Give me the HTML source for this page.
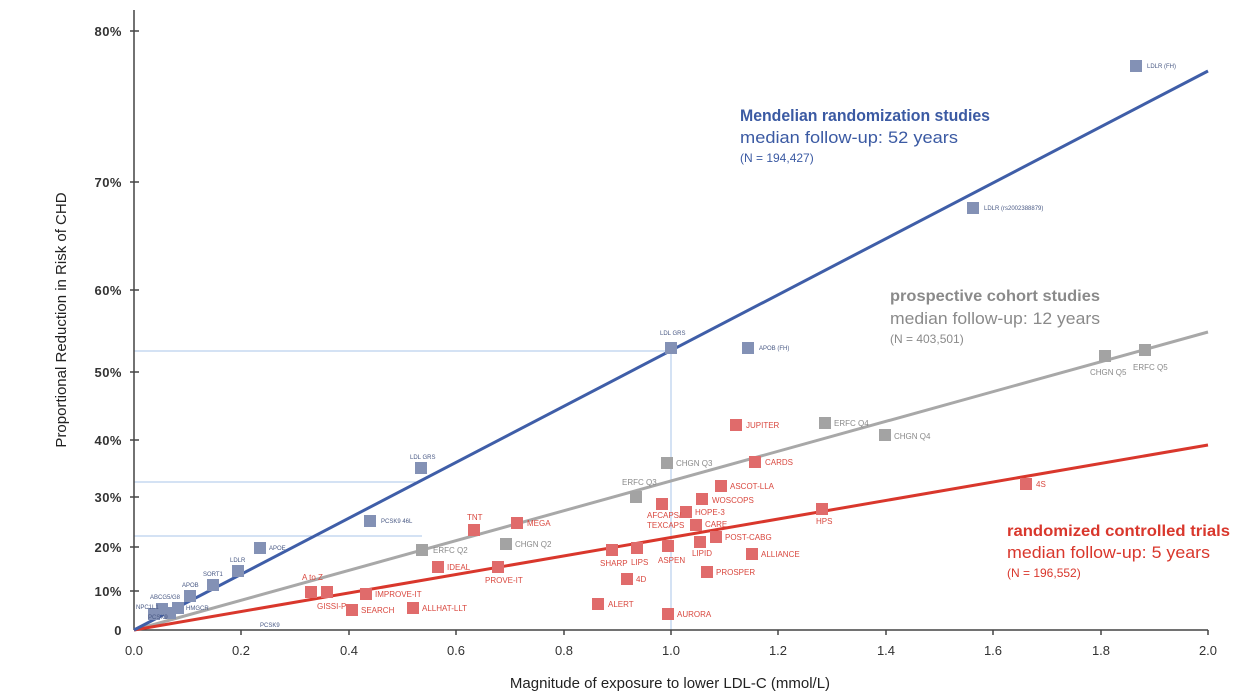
<!DOCTYPE html>
<html><head><meta charset="utf-8"><style>
body{margin:0;background:#fff}
svg{display:block;font-family:"Liberation Sans",sans-serif}
.b{fill:#8391b5}.g{fill:#a3a3a3}.r{fill:#e06b6b}
.tb{fill:#4a5a85;font-size:6px}.tg{fill:#8a8a8a;font-size:8px}.tr{fill:#d9483f;font-size:8px}
.yt{font-size:13px;fill:#333;font-weight:bold;text-anchor:end;letter-spacing:0.5px}
.xt{font-size:13px;fill:#333;text-anchor:middle}
</style></head><body>
<svg width="1250" height="700" viewBox="0 0 1250 700">
<g stroke="#a9c4ea" stroke-width="1">
<line x1="134" y1="351" x2="671" y2="351"/><line x1="134" y1="482" x2="421" y2="482"/>
<line x1="134" y1="536" x2="422" y2="536"/><line x1="671" y1="351" x2="671" y2="630"/>
</g>
<g stroke="#444" stroke-width="1.5">
<line x1="134" y1="10" x2="134" y2="630"/><line x1="134" y1="630" x2="1208" y2="630"/>
<line x1="130" y1="31" x2="139" y2="31"/><line x1="130" y1="182" x2="139" y2="182"/>
<line x1="130" y1="290" x2="139" y2="290"/><line x1="130" y1="372" x2="139" y2="372"/>
<line x1="130" y1="440" x2="139" y2="440"/><line x1="130" y1="497" x2="139" y2="497"/>
<line x1="130" y1="547" x2="139" y2="547"/><line x1="130" y1="591" x2="139" y2="591"/>
<line x1="241" y1="630" x2="241" y2="635"/><line x1="349" y1="630" x2="349" y2="635"/><line x1="456" y1="630" x2="456" y2="635"/><line x1="564" y1="630" x2="564" y2="635"/><line x1="671" y1="630" x2="671" y2="635"/><line x1="778" y1="630" x2="778" y2="635"/><line x1="886" y1="630" x2="886" y2="635"/><line x1="993" y1="630" x2="993" y2="635"/><line x1="1101" y1="630" x2="1101" y2="635"/><line x1="1208" y1="630" x2="1208" y2="635"/>
</g>
<g class="yt"><text x="122" y="36">80%</text><text x="122" y="187">70%</text><text x="122" y="295">60%</text><text x="122" y="377">50%</text><text x="122" y="445">40%</text><text x="122" y="502">30%</text><text x="122" y="552">20%</text><text x="122" y="596">10%</text><text x="122" y="635">0</text></g>
<g class="xt"><text x="134" y="655">0.0</text><text x="241" y="655">0.2</text><text x="349" y="655">0.4</text><text x="456" y="655">0.6</text><text x="564" y="655">0.8</text><text x="671" y="655">1.0</text><text x="778" y="655">1.2</text><text x="886" y="655">1.4</text><text x="993" y="655">1.6</text><text x="1101" y="655">1.8</text><text x="1208" y="655">2.0</text></g>
<text x="670" y="688" font-size="15" fill="#222" text-anchor="middle">Magnitude of exposure to lower LDL-C (mmol/L)</text>
<text transform="translate(66,320) rotate(-90)" font-size="15" fill="#222" text-anchor="middle">Proportional Reduction in Risk of CHD</text>
<line x1="134" y1="630" x2="1208" y2="332" stroke="#a8a8a8" stroke-width="3"/>
<line x1="134" y1="630" x2="1208" y2="445" stroke="#d9372c" stroke-width="3"/>
<line x1="134" y1="630" x2="1208" y2="71" stroke="#3f5ea8" stroke-width="3"/>
<g class="b">
<rect x="1130" y="60" width="12" height="12"/><rect x="967" y="202" width="12" height="12"/><rect x="665" y="342" width="12" height="12"/><rect x="742" y="342" width="12" height="12"/><rect x="415" y="462" width="12" height="12"/><rect x="364" y="515" width="12" height="12"/><rect x="254" y="542" width="12" height="12"/><rect x="232" y="565" width="12" height="12"/><rect x="207" y="579" width="12" height="12"/><rect x="184" y="590" width="12" height="12"/><rect x="148" y="608" width="12" height="12"/><rect x="156" y="603" width="12" height="12"/><rect x="164" y="607" width="12" height="12"/><rect x="172" y="602" width="12" height="12"/>
</g>
<g class="tb">
<text x="1147" y="68">LDLR (FH)</text><text x="984" y="210">LDLR (rs2002388879)</text><text x="660" y="335">LDL GRS</text><text x="759" y="350">APOB (FH)</text><text x="410" y="459">LDL GRS</text><text x="381" y="523">PCSK9 46L</text><text x="269" y="550">APOE</text><text x="230" y="562">LDLR</text><text x="203" y="576">SORT1</text><text x="182" y="587">APOB</text><text x="150" y="599">ABCG5/G8</text><text x="136" y="609">NPC1L1</text><text x="186" y="610">HMGCR</text><text x="148" y="619">PCSK9</text><text x="260" y="627">PCSK9</text>
</g>
<g class="g">
<rect x="1139" y="344" width="12" height="12"/><rect x="1099" y="350" width="12" height="12"/><rect x="819" y="417" width="12" height="12"/><rect x="879" y="429" width="12" height="12"/><rect x="661" y="457" width="12" height="12"/><rect x="630" y="491" width="12" height="12"/><rect x="500" y="538" width="12" height="12"/><rect x="416" y="544" width="12" height="12"/>
</g>
<g class="tg">
<text x="1133" y="370">ERFC Q5</text><text x="1090" y="375">CHGN Q5</text><text x="834" y="426">ERFC Q4</text><text x="894" y="439">CHGN Q4</text><text x="676" y="466">CHGN Q3</text><text x="622" y="485">ERFC Q3</text><text x="515" y="547">CHGN Q2</text><text x="433" y="553">ERFC Q2</text>
</g>
<g class="r">
<rect x="1020" y="478" width="12" height="12"/><rect x="730" y="419" width="12" height="12"/><rect x="749" y="456" width="12" height="12"/><rect x="715" y="480" width="12" height="12"/><rect x="696" y="493" width="12" height="12"/><rect x="680" y="506" width="12" height="12"/><rect x="656" y="498" width="12" height="12"/><rect x="690" y="519" width="12" height="12"/><rect x="710" y="531" width="12" height="12"/><rect x="816" y="503" width="12" height="12"/><rect x="511" y="517" width="12" height="12"/><rect x="468" y="524" width="12" height="12"/><rect x="606" y="544" width="12" height="12"/><rect x="631" y="542" width="12" height="12"/><rect x="662" y="540" width="12" height="12"/><rect x="694" y="536" width="12" height="12"/><rect x="746" y="548" width="12" height="12"/><rect x="701" y="566" width="12" height="12"/><rect x="621" y="573" width="12" height="12"/><rect x="592" y="598" width="12" height="12"/><rect x="662" y="608" width="12" height="12"/><rect x="432" y="561" width="12" height="12"/><rect x="492" y="561" width="12" height="12"/><rect x="305" y="586" width="12" height="12"/><rect x="321" y="586" width="12" height="12"/><rect x="360" y="588" width="12" height="12"/><rect x="346" y="604" width="12" height="12"/><rect x="407" y="602" width="12" height="12"/>
</g>
<g class="tr">
<text x="1036" y="487">4S</text><text x="746" y="428">JUPITER</text><text x="765" y="465">CARDS</text><text x="730" y="489">ASCOT-LLA</text><text x="712" y="503">WOSCOPS</text><text x="695" y="515">HOPE-3</text><text x="647" y="518">AFCAPS/</text><text x="647" y="528">TEXCAPS</text><text x="705" y="527">CARE</text><text x="725" y="540">POST-CABG</text><text x="816" y="524">HPS</text><text x="527" y="526">MEGA</text><text x="467" y="520">TNT</text><text x="600" y="566">SHARP</text><text x="631" y="565">LIPS</text><text x="658" y="563">ASPEN</text><text x="692" y="556">LIPID</text><text x="761" y="557">ALLIANCE</text><text x="716" y="575">PROSPER</text><text x="636" y="582">4D</text><text x="608" y="607">ALERT</text><text x="677" y="617">AURORA</text><text x="447" y="570">IDEAL</text><text x="485" y="583">PROVE-IT</text><text x="302" y="580">A to Z</text><text x="375" y="597">IMPROVE-IT</text><text x="317" y="609">GISSI-P</text><text x="361" y="613">SEARCH</text><text x="422" y="611">ALLHAT-LLT</text>
</g>
<text x="740" y="121" font-size="17" font-weight="bold" fill="#3b5aa3" textLength="250" lengthAdjust="spacingAndGlyphs">Mendelian randomization studies</text>
<text x="740" y="143" font-size="17" fill="#3b5aa3" textLength="218" lengthAdjust="spacingAndGlyphs">median follow-up: 52 years</text>
<text x="740" y="162" font-size="12" fill="#3b5aa3">(N = 194,427)</text>
<text x="890" y="301" font-size="16" font-weight="bold" fill="#8a8a8a" textLength="210" lengthAdjust="spacingAndGlyphs">prospective cohort studies</text>
<text x="890" y="324" font-size="17" fill="#8a8a8a" textLength="210" lengthAdjust="spacingAndGlyphs">median follow-up: 12 years</text>
<text x="890" y="343" font-size="12" fill="#8a8a8a">(N = 403,501)</text>
<text x="1007" y="536" font-size="16" font-weight="bold" fill="#d9372c" textLength="223" lengthAdjust="spacingAndGlyphs">randomized controlled trials</text>
<text x="1007" y="558" font-size="17" fill="#d9372c" textLength="203" lengthAdjust="spacingAndGlyphs">median follow-up: 5 years</text>
<text x="1007" y="577" font-size="12" fill="#d9372c">(N = 196,552)</text>
</svg>
</body></html>
